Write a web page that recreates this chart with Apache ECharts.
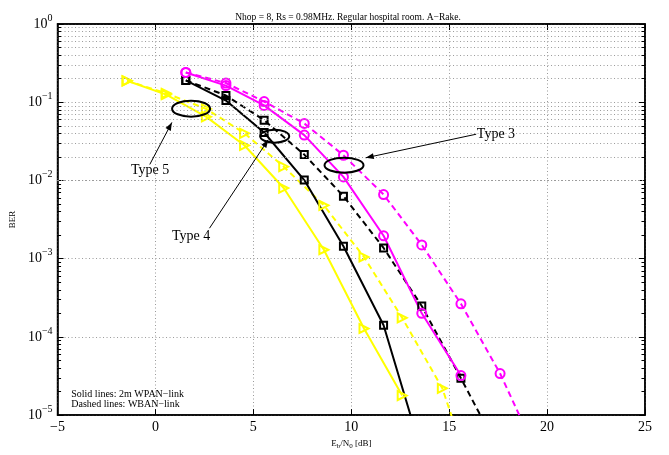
<!DOCTYPE html>
<html><head><meta charset="utf-8">
<script src="https://cdn.jsdelivr.net/npm/echarts@6/dist/echarts.min.js"></script>
<style>html,body{margin:0;padding:0;background:#fff}#c{width:669px;height:455px}</style>
</head><body><div id="c"></div>
<script>
// ---- data ----
const xMB = [1.55, 3.6, 5.55, 7.6, 9.6, 11.65, 13.6, 15.6, 17.6, 19.6];
const xY  = [-1.45, 0.55, 2.6, 4.55, 6.55, 8.6, 10.65, 12.6, 14.65, 16.65];
const type3Solid  = [0.24, 0.163, 0.091, 0.038, 0.0111, 0.00196, 0.0002, 3.2e-5];
const type3Dashed = [0.24, 0.176, 0.102, 0.0536, 0.021, 0.0066, 0.0015, 0.000265, 3.4e-5, 2.8e-6];
const type4Solid  = [0.19, 0.105, 0.041, 0.0101, 0.00144, 0.000141, 3.3e-6];
const type4Dashed = [0.19, 0.122, 0.059, 0.0214, 0.0063, 0.00137, 0.000248, 2.96e-5, 3.3e-6];
const type5Solid  = [0.188, 0.125, 0.065, 0.028, 0.008, 0.0013, 0.000128, 1.78e-5];
const type5Dashed = [0.188, 0.13, 0.082, 0.04, 0.015, 0.0048, 0.00105, 0.000175, 2.2e-5, 7e-7];
const xTicks = [-5, 0, 5, 10, 15, 20, 25];
const yDecades = [-5, -4, -3, -2, -1, 0];

const SERIF = 'Liberation Serif';
const MAG = '#ff00ff', BLK = '#000000', YEL = '#ffff00';
const GRIDC = '#9a9a9a';

function pairs(xs, ys) { return ys.map((v, i) => [xs[i], v]); }

const minorVals = [];
for (let k = -5; k < 0; k++) for (let m = 2; m <= 9; m++) minorVals.push(m * Math.pow(10, k));

function mkSeries(name, xs, ys, color, dashed, symbol, size, rotate) {
  return {
    name, type: 'line', data: pairs(xs, ys), clip: true,
    symbol, symbolSize: size, symbolRotate: rotate || 0,
    showAllSymbol: true,
    lineStyle: { color, width: 2, type: dashed ? [6, 4] : 'solid' },
    itemStyle: { color: 'rgba(0,0,0,0)', borderColor: color, borderWidth: 2 },
    emphasis: { disabled: true }, z: 3
  };
}

const chart = echarts.init(document.getElementById('c'), null, { renderer: 'canvas' });

const gridSeries = {
  type: 'line', data: [], silent: true, z: 1,
  markLine: {
    silent: true, symbol: 'none', label: { show: false }, animation: false,
    lineStyle: { color: GRIDC, type: [1, 2.5], width: 1 },
    data: minorVals.map(v => ({ yAxis: v }))
  }
};
const minorTickSeries = {
  type: 'line', data: [], silent: true, z: 4,
  markLine: {
    silent: true, symbol: 'none', label: { show: false }, animation: false,
    lineStyle: { color: '#000', type: 'solid', width: 1 },
    data: [].concat(
      minorVals.map(v => [{ coord: [-5, v] }, { coord: [-4.82, v] }]),
      minorVals.map(v => [{ coord: [25, v] }, { coord: [24.82, v] }])
    )
  }
};

const option = {
  animation: false,
  backgroundColor: '#fff',
  title: {
    text: 'Nhop = 8, Rs = 0.98MHz. Regular hospital room. A\u2212Rake.',
    left: 343, top: 7, textAlign: 'center',
    textStyle: { fontFamily: SERIF, fontSize: 9.5, fontWeight: 'normal', color: '#000' }
  },
  grid: { left: 42, right: 24, top: 24, bottom: 34, show: true, borderColor: '#000', borderWidth: 1.5, containLabel: false },
  xAxis: [{
    type: 'value', min: -5, max: 25, interval: 5, position: 'bottom',
    name: 'E{sub|b}/N{sub|0} [dB]', nameLocation: 'middle', nameGap: 14,
    nameTextStyle: { fontFamily: SERIF, fontSize: 9, color: '#000',
      rich: { sub: { fontFamily: SERIF, fontSize: 7, padding: [6, 0, 0, 0] } } },
    axisLine: { show: true, onZero: false, lineStyle: { color: '#000', width: 1.5 } },
    axisTick: { show: true, inside: true, length: 6, lineStyle: { color: '#000' } },
    axisLabel: { fontFamily: SERIF, fontSize: 14, color: '#000', margin: 5,
      formatter: v => (v < 0 ? '\u2212' + Math.abs(v) : String(v)) },
    splitLine: { show: true, lineStyle: { color: GRIDC, type: [1, 2.5], width: 1 } }
  }, {
    type: 'value', min: -5, max: 25, interval: 5, position: 'top',
    axisLine: { show: true, onZero: false, lineStyle: { color: '#000', width: 1.5 } },
    axisTick: { show: true, inside: true, length: 6, lineStyle: { color: '#000' } },
    axisLabel: { show: false }, splitLine: { show: false }
  }],
  yAxis: [{
    type: 'log', logBase: 10, min: 1e-5, max: 1, interval: 1, position: 'left',
    name: 'BER', nameLocation: 'middle', nameGap: 22, nameRotate: 90,
    nameTextStyle: { fontFamily: SERIF, fontSize: 9, color: '#000' },
    axisLine: { show: true, onZero: false, lineStyle: { color: '#000', width: 1.5 } },
    axisTick: { show: true, inside: true, length: 6, lineStyle: { color: '#000' } },
    minorTick: { show: false },
    axisLabel: {
      margin: 5, color: '#000',
      formatter: v => {
        const e = Math.round(Math.log10(v));
        return '{b|10}{s|' + (e < 0 ? '\u2212' + Math.abs(e) : String(e)) + '}';
      },
      rich: {
        b: { fontFamily: SERIF, fontSize: 14, color: '#000' },
        s: { fontFamily: SERIF, fontSize: 10, color: '#000', padding: [0, 0, 12, 0] }
      }
    },
    splitLine: { show: true, lineStyle: { color: GRIDC, type: [1, 2.5], width: 1 } }
  }, {
    type: 'log', logBase: 10, min: 1e-5, max: 1, interval: 1, position: 'right',
    axisLine: { show: true, onZero: false, lineStyle: { color: '#000', width: 1.5 } },
    axisTick: { show: true, inside: true, length: 6, lineStyle: { color: '#000' } },
    axisLabel: { show: false }, splitLine: { show: false }
  }],
  series: [
    gridSeries,
    mkSeries('Type 5 dashed', xY, type5Dashed, YEL, true, 'triangle', 9, -90),
    mkSeries('Type 5 solid', xY, type5Solid, YEL, false, 'triangle', 9, -90),
    mkSeries('Type 4 dashed', xMB, type4Dashed, BLK, true, 'rect', 7),
    mkSeries('Type 4 solid', xMB, type4Solid, BLK, false, 'rect', 7),
    mkSeries('Type 3 dashed', xMB, type3Dashed, MAG, true, 'circle', 9),
    mkSeries('Type 3 solid', xMB, type3Solid, MAG, false, 'circle', 9),
    minorTickSeries
  ]
};
chart.setOption(option);

// ---- annotations (placed in data coordinates) ----
const ellipses = [
  { c: [1.82, 0.0828], rx: 19, ry: 8 },
  { c: [6.09, 0.0368], rx: 14.5, ry: 6.5 },
  { c: [9.63, 0.01567], rx: 19.5, ry: 7.5 }
];
const arrows = [
  { from: [-0.29, 0.016], to: [0.84, 0.0552] },
  { from: [2.76, 0.00245], to: [5.76, 0.0331] },
  { from: [16.38, 0.039], to: [10.74, 0.01946] }
];
const labels = [
  { t: 'Type 5', at: [-0.27, 0.01336] },
  { t: 'Type 4', at: [1.82, 0.00192] },
  { t: 'Type 3', at: [17.39, 0.039] }
];
const P = c => chart.convertToPixel({ xAxisIndex: 0, yAxisIndex: 0 }, c);
const g = [];
ellipses.forEach(e => {
  const p = P(e.c);
  g.push({ type: 'ellipse', shape: { cx: p[0], cy: p[1], rx: e.rx, ry: e.ry },
    style: { fill: 'none', stroke: '#000', lineWidth: 2 }, z: 10 });
});
arrows.forEach(a => {
  const p0 = P(a.from), p1 = P(a.to);
  g.push({ type: 'line', shape: { x1: p0[0], y1: p0[1], x2: p1[0], y2: p1[1] },
    style: { stroke: '#000', lineWidth: 1 }, z: 10 });
  const dx = p1[0] - p0[0], dy = p1[1] - p0[1], L = Math.hypot(dx, dy);
  const ux = dx / L, uy = dy / L, len = 8, w = 3;
  const bx = p1[0] - ux * len, by = p1[1] - uy * len;
  g.push({ type: 'polygon', shape: { points: [[p1[0], p1[1]], [bx - uy * w, by + ux * w], [bx + uy * w, by - ux * w]] },
    style: { fill: '#000' }, z: 10 });
});
labels.forEach(l => {
  const p = P(l.at);
  g.push({ type: 'text', x: p[0], y: p[1], z: 10,
    style: { text: l.t, fontFamily: SERIF, fontSize: 14, fill: '#000', align: 'center', verticalAlign: 'middle' } });
});
const lp = P([-4.3, 1.6e-5]);
g.push({ type: 'text', x: lp[0], y: lp[1], z: 10,
  style: { text: 'Solid lines: 2m WPAN\u2212link\nDashed lines: WBAN\u2212link', fontFamily: SERIF, fontSize: 10,
    lineHeight: 10, fill: '#000', align: 'left', verticalAlign: 'middle' } });
chart.setOption({ graphic: g });
</script></body></html>
